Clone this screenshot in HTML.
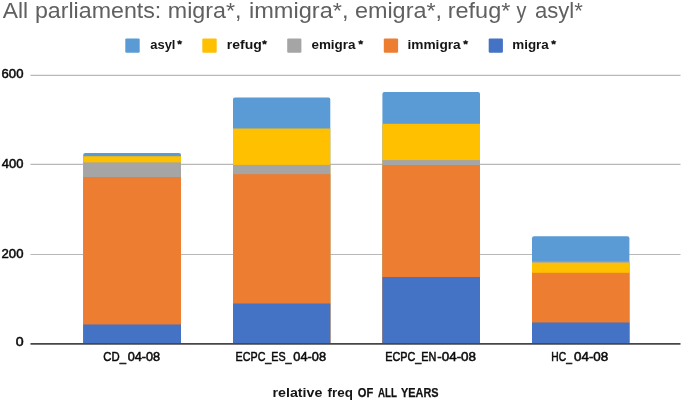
<!DOCTYPE html>
<html>
<head>
<meta charset="utf-8">
<title>All parliaments</title>
<style>
html,body{margin:0;padding:0;background:#fff;}
body{width:685px;height:401px;overflow:hidden;font-family:"Liberation Sans",sans-serif;}
svg{display:block;will-change:transform;}
text{font-family:"Liberation Sans",sans-serif;}
</style>
</head>
<body>
<svg width="685" height="401" viewBox="0 0 685 401">
  <rect x="0" y="0" width="685" height="401" fill="#ffffff"/>

  <!-- legend swatches -->
  <g>
    <rect x="125.3" y="38.4" width="14.4" height="14.3" rx="1.2" fill="#5b9bd5"/>
    <rect x="202.3" y="38.4" width="14.4" height="14.3" rx="1.2" fill="#ffc000"/>
    <rect x="287.2" y="38.4" width="14.2" height="14.3" rx="1.2" fill="#a5a5a5"/>
    <rect x="383.8" y="38.4" width="14.3" height="14.3" rx="1.2" fill="#ed7d31"/>
    <rect x="488.7" y="38.4" width="14.2" height="14.3" rx="1.2" fill="#4472c4"/>
  </g>

  <!-- legend asterisks (tiny blobs) -->
  <g fill="#1c1c1c" stroke="#1c1c1c" stroke-width="0.5" stroke-linejoin="round">
    <polygon points="179.60,40.20 180.53,41.33 182.10,41.72 181.10,42.81 181.14,44.18 179.60,43.72 178.06,44.18 178.10,42.81 177.10,41.72 178.67,41.33"/>
    <polygon points="264.50,40.20 265.43,41.33 267.00,41.72 266.00,42.81 266.04,44.18 264.50,43.72 262.96,44.18 263.00,42.81 262.00,41.72 263.57,41.33"/>
    <polygon points="360.70,40.20 361.63,41.33 363.20,41.72 362.20,42.81 362.24,44.18 360.70,43.72 359.16,44.18 359.20,42.81 358.20,41.72 359.77,41.33"/>
    <polygon points="465.60,40.20 466.53,41.33 468.10,41.72 467.10,42.81 467.14,44.18 465.60,43.72 464.06,44.18 464.10,42.81 463.10,41.72 464.67,41.33"/>
    <polygon points="553.60,40.20 554.53,41.33 556.10,41.72 555.10,42.81 555.14,44.18 553.60,43.72 552.06,44.18 552.10,42.81 551.10,41.72 552.67,41.33"/>
  </g>

  <!-- gridlines -->
  <g stroke="#b8b8b8" stroke-width="1.2">
    <line x1="30.5" y1="75.3" x2="680.5" y2="75.3"/>
    <line x1="30.5" y1="164.45" x2="680.5" y2="164.45"/>
    <line x1="30.5" y1="254.5" x2="680.5" y2="254.5"/>
  </g>

  <!-- bar 1 -->
  <g>
    <path d="M83.2 343 V155 a2 2 0 0 1 2 -2 H179 a2 2 0 0 1 2 2 V343 Z" fill="#5b9bd5"/>
    <rect x="83.2" y="156.2" width="97.8" height="187" fill="#ffc000"/>
    <rect x="83.2" y="162.4" width="97.8" height="181" fill="#a5a5a5"/>
    <rect x="83.2" y="177" width="97.8" height="166" fill="#ed7d31"/>
    <rect x="83.2" y="324.5" width="97.8" height="18.5" fill="#4472c4"/>
  </g>
  <!-- bar 2 -->
  <g>
    <path d="M233 343 V99.4 a1.8 1.8 0 0 1 1.8 -1.8 H328.5 a1.8 1.8 0 0 1 1.8 1.8 V343 Z" fill="#5b9bd5"/>
    <rect x="233" y="128.5" width="97.3" height="215" fill="#ffc000"/>
    <rect x="233" y="164.9" width="97.3" height="178" fill="#a5a5a5"/>
    <rect x="233" y="174.2" width="97.3" height="169" fill="#ed7d31"/>
    <rect x="233" y="303.5" width="97.3" height="39.5" fill="#4472c4"/>
  </g>
  <!-- bar 3 -->
  <g>
    <path d="M382.4 343 V94 a2 2 0 0 1 2 -2 H478 a2 2 0 0 1 2 2 V343 Z" fill="#5b9bd5"/>
    <rect x="382.4" y="123.8" width="97.6" height="219" fill="#ffc000"/>
    <rect x="382.4" y="160.1" width="97.6" height="183" fill="#a5a5a5"/>
    <rect x="382.4" y="165" width="97.6" height="178" fill="#ed7d31"/>
    <rect x="382.4" y="277" width="97.6" height="66" fill="#4472c4"/>
  </g>
  <!-- bar 4 -->
  <g>
    <path d="M532 343 V238.2 a2 2 0 0 1 2 -2 H627.4 a2 2 0 0 1 2 2 V343 Z" fill="#5b9bd5"/>
    <rect x="532" y="261.4" width="97.4" height="81" fill="#a5a5a5"/>
    <rect x="532" y="262.7" width="97.4" height="80" fill="#ffc000"/>
    <rect x="532" y="272.8" width="97.4" height="70" fill="#ed7d31"/>
    <rect x="532" y="322.5" width="97.4" height="20.5" fill="#4472c4"/>
  </g>

  <!-- axis -->
  <line x1="30.5" y1="343.8" x2="680.5" y2="343.8" stroke="#474747" stroke-width="1.8"/>

  <!-- text: title words, legend labels, y labels, x labels, x axis title -->
  <text x="2.80" y="17.95" font-size="21.8" fill="#606060" textLength="25.30" lengthAdjust="spacingAndGlyphs">All</text>
  <text x="34.90" y="17.95" font-size="21.8" fill="#606060" textLength="126.40" lengthAdjust="spacingAndGlyphs">parliaments:</text>
  <text x="167.80" y="17.95" font-size="21.8" fill="#606060" textLength="73.60" lengthAdjust="spacingAndGlyphs">migra*,</text>
  <text x="248.90" y="17.95" font-size="21.8" fill="#606060" textLength="99.60" lengthAdjust="spacingAndGlyphs">immigra*,</text>
  <text x="354.90" y="17.95" font-size="21.8" fill="#606060" textLength="87.20" lengthAdjust="spacingAndGlyphs">emigra*,</text>
  <text x="447.70" y="17.95" font-size="21.8" fill="#606060" textLength="62.65" lengthAdjust="spacingAndGlyphs">refug*</text>
  <text x="516.60" y="17.95" font-size="21.8" fill="#606060" textLength="9.90" lengthAdjust="spacingAndGlyphs">y</text>
  <text x="534.95" y="17.95" font-size="21.8" fill="#606060" textLength="47.85" lengthAdjust="spacingAndGlyphs">asyl*</text>
  <text x="150.25" y="49.1" font-size="13.3" fill="#151515" font-weight="bold" textLength="25.20" lengthAdjust="spacingAndGlyphs">asyl</text>
  <text x="226.85" y="49.1" font-size="13.3" fill="#151515" font-weight="bold" textLength="35.00" lengthAdjust="spacingAndGlyphs">refug</text>
  <text x="311.40" y="49.1" font-size="13.3" fill="#151515" font-weight="bold" textLength="44.15" lengthAdjust="spacingAndGlyphs">emigra</text>
  <text x="407.45" y="49.1" font-size="13.3" fill="#151515" font-weight="bold" textLength="53.30" lengthAdjust="spacingAndGlyphs">immigra</text>
  <text x="512.25" y="49.1" font-size="13.3" fill="#151515" font-weight="bold" textLength="36.50" lengthAdjust="spacingAndGlyphs">migra</text>
  <text x="1.55" y="78.3" font-size="12.8" fill="#0a0a0a" stroke="#0a0a0a" stroke-width="0.5" textLength="21.90" lengthAdjust="spacingAndGlyphs">600</text>
  <text x="1.80" y="168.0" font-size="12.8" fill="#0a0a0a" stroke="#0a0a0a" stroke-width="0.5" textLength="21.65" lengthAdjust="spacingAndGlyphs">400</text>
  <text x="1.55" y="257.7" font-size="12.8" fill="#0a0a0a" stroke="#0a0a0a" stroke-width="0.5" textLength="21.90" lengthAdjust="spacingAndGlyphs">200</text>
  <text x="15.85" y="346.4" font-size="12.8" fill="#0a0a0a" stroke="#0a0a0a" stroke-width="0.5" textLength="7.90" lengthAdjust="spacingAndGlyphs">0</text>
  <text x="103.35" y="360.9" font-size="12.4" fill="#0a0a0a" stroke="#0a0a0a" stroke-width="0.5" textLength="22.65" lengthAdjust="spacingAndGlyphs">CD_</text>
  <text x="127.65" y="360.9" font-size="12.4" fill="#0a0a0a" stroke="#0a0a0a" stroke-width="0.5" textLength="32.40" lengthAdjust="spacingAndGlyphs">04-08</text>
  <text x="235.60" y="360.9" font-size="12.4" fill="#0a0a0a" stroke="#0a0a0a" stroke-width="0.5" textLength="56.00" lengthAdjust="spacingAndGlyphs">ECPC_ES_</text>
  <text x="293.35" y="360.9" font-size="12.4" fill="#0a0a0a" stroke="#0a0a0a" stroke-width="0.5" textLength="32.70" lengthAdjust="spacingAndGlyphs">04-08</text>
  <text x="385.30" y="360.9" font-size="12.4" fill="#0a0a0a" stroke="#0a0a0a" stroke-width="0.5" textLength="51.10" lengthAdjust="spacingAndGlyphs">ECPC_EN</text>
  <text x="437.25" y="360.9" font-size="12.4" fill="#0a0a0a" stroke="#0a0a0a" stroke-width="0.5" textLength="38.80" lengthAdjust="spacingAndGlyphs">-04-08</text>
  <text x="551.30" y="360.9" font-size="12.4" fill="#0a0a0a" stroke="#0a0a0a" stroke-width="0.5" textLength="20.60" lengthAdjust="spacingAndGlyphs">HC_</text>
  <text x="574.05" y="360.9" font-size="12.4" fill="#0a0a0a" stroke="#0a0a0a" stroke-width="0.5" textLength="34.20" lengthAdjust="spacingAndGlyphs">04-08</text>
  <text x="272.55" y="396.8" font-size="13.4" fill="#151515" font-weight="bold" textLength="49.85" lengthAdjust="spacingAndGlyphs">relative</text>
  <text x="327.55" y="396.8" font-size="13.4" fill="#151515" font-weight="bold" textLength="25.30" lengthAdjust="spacingAndGlyphs">freq</text>
  <text x="357.85" y="396.8" font-size="12.4" fill="#111111" font-weight="bold" stroke="#111111" stroke-width="0.25" textLength="15.40" lengthAdjust="spacingAndGlyphs">OF</text>
  <text x="377.90" y="396.8" font-size="12.4" fill="#111111" font-weight="bold" stroke="#111111" stroke-width="0.25" textLength="18.95" lengthAdjust="spacingAndGlyphs">ALL</text>
  <text x="401.00" y="396.8" font-size="12.4" fill="#111111" font-weight="bold" stroke="#111111" stroke-width="0.25" textLength="37.55" lengthAdjust="spacingAndGlyphs">YEARS</text>
</svg>
</body>
</html>
